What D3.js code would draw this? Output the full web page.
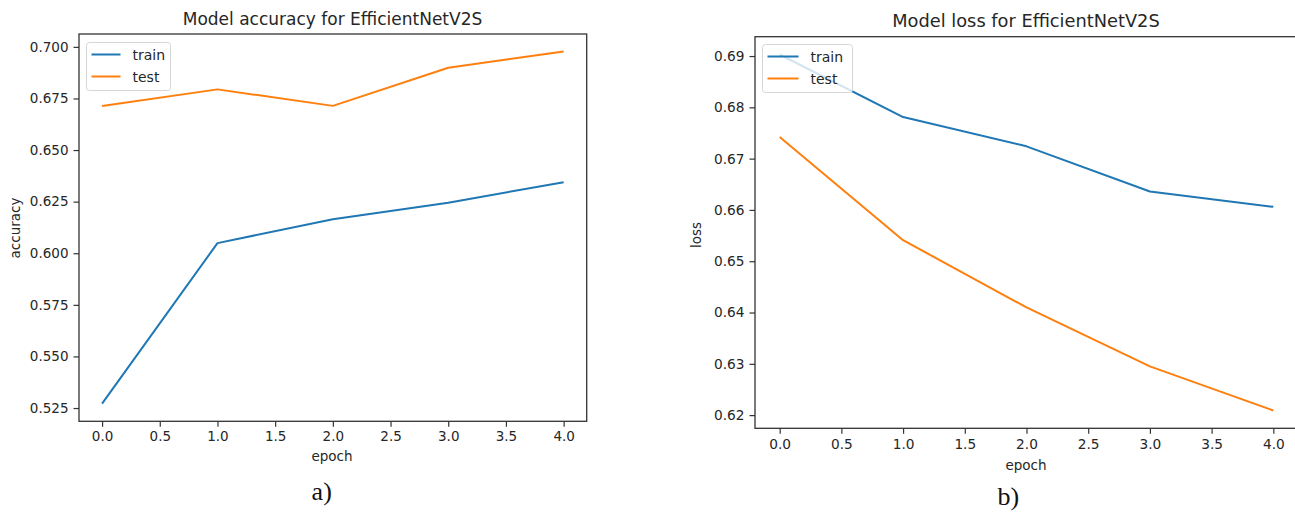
<!DOCTYPE html>
<html>
<head>
<meta charset="utf-8">
<script src="https://cdn.jsdelivr.net/npm/d3@7"></script>
<style>
  html, body { margin: 0; padding: 0; background: #fff; }
  svg { display: block; font-family: "DejaVu Sans", sans-serif; }
</style>
</head>
<body>
<svg id="chart" width="1295" height="514"></svg>
<script>
// Training history of EfficientNetV2S over 5 epochs
const epochs = [0, 1, 2, 3, 4];
const accTrain = [0.5271, 0.6049, 0.6165, 0.6245, 0.6344];
const accTest = [0.6713, 0.6794, 0.6714, 0.6899, 0.6977];
const lossTrain = [0.6903, 0.6781, 0.6724, 0.6636, 0.6606];
const lossTest = [0.6742, 0.6541, 0.6410, 0.6295, 0.6209];

const epochTicks = [0, 0.5, 1, 1.5, 2, 2.5, 3, 3.5, 4];
const accTicks = [0.525, 0.550, 0.575, 0.600, 0.625, 0.650, 0.675, 0.700];
const lossTicks = [0.62, 0.63, 0.64, 0.65, 0.66, 0.67, 0.68, 0.69];

const seriesNames = ["train", "test"];
const colors = ["#1f77b4", "#ff7f0e"];
const textColor = "#262626";

const svg = d3.select("#chart");

// Pad a domain by 5% on each side, like matplotlib's default autoscale
function padded(values) {
  const [lo, hi] = d3.extent(values);
  const m = (hi - lo) * 0.05;
  return [lo - m, hi + m];
}

function panel(cfg) {
  const g = svg.append("g");
  const x = d3.scaleLinear().domain(padded(epochs)).range([cfg.left, cfg.right]);
  const y = d3.scaleLinear().domain(padded(cfg.series.flat())).range([cfg.bottom, cfg.top]);

  // lines
  const line = d3.line().x((d, i) => x(epochs[i])).y(d => y(d));
  cfg.series.forEach((s, k) => {
    g.append("path")
      .datum(s)
      .attr("fill", "none")
      .attr("stroke", colors[k])
      .attr("stroke-width", 2)
      .attr("stroke-linejoin", "round")
      .attr("d", line);
  });

  // frame
  g.append("rect")
    .attr("x", cfg.left).attr("y", cfg.top)
    .attr("width", cfg.right - cfg.left).attr("height", cfg.bottom - cfg.top)
    .attr("fill", "none").attr("stroke", "#333").attr("stroke-width", 1.3);

  // axes
  const xAxis = g.append("g")
    .attr("transform", `translate(0,${cfg.bottom})`)
    .call(d3.axisBottom(x).tickValues(epochTicks).tickFormat(d3.format(".1f")).tickSize(5.5).tickPadding(5));
  const yAxis = g.append("g")
    .attr("transform", `translate(${cfg.left},0)`)
    .call(d3.axisLeft(y).tickValues(cfg.yTicks).tickFormat(d3.format(cfg.yFormat)).tickSize(5.5).tickPadding(5));
  [xAxis, yAxis].forEach(a => {
    a.select(".domain").remove();
    a.selectAll(".tick line").attr("stroke", "#333").attr("stroke-width", 1.2);
    a.selectAll(".tick text")
      .attr("fill", textColor)
      .style("font-size", cfg.tickSize + "px")
      .style("font-family", "DejaVu Sans");
  });

  // title
  g.append("text")
    .attr("x", cfg.titleX).attr("y", cfg.titleY)
    .attr("text-anchor", "middle")
    .attr("fill", textColor)
    .style("font-size", cfg.titleSize + "px")
    .text(cfg.title);

  // axis labels
  g.append("text")
    .attr("x", cfg.xLabelX).attr("y", cfg.xLabelY)
    .attr("text-anchor", "middle")
    .attr("fill", textColor)
    .style("font-size", "13.5px")
    .text("epoch");
  g.append("text")
    .attr("transform", `translate(${cfg.yLabelX},${cfg.yLabelY}) rotate(-90)`)
    .attr("text-anchor", "middle")
    .attr("fill", textColor)
    .style("font-size", "13.5px")
    .text(cfg.yLabel);

  // legend
  const lg = g.append("g").attr("transform", `translate(${cfg.legX},${cfg.legY})`);
  lg.append("rect")
    .attr("width", cfg.legW).attr("height", 48)
    .attr("rx", 3)
    .attr("fill", "#fff").attr("fill-opacity", 0.8)
    .attr("stroke", "#d6d6d6").attr("stroke-width", 1);
  seriesNames.forEach((name, k) => {
    const yy = 12 + k * 22;
    lg.append("line")
      .attr("x1", 5).attr("x2", 5 + cfg.legLine)
      .attr("y1", yy).attr("y2", yy)
      .attr("stroke", colors[k]).attr("stroke-width", 2);
    lg.append("text")
      .attr("x", cfg.legLine + 17).attr("y", yy + 5)
      .attr("fill", textColor)
      .style("font-size", "14px")
      .text(name);
  });

  // panel letter
  g.append("text")
    .attr("x", cfg.letterX).attr("y", cfg.letterY)
    .attr("text-anchor", "middle")
    .attr("fill", "#111")
    .style("font-family", "Liberation Serif, serif")
    .style("font-size", "26px")
    .text(cfg.letter);
}

panel({
  series: [accTrain, accTest],
  left: 79, right: 586.7, top: 34, bottom: 421.3,
  yTicks: accTicks, yFormat: ".3f", tickSize: 13.5,
  title: "Model accuracy for EfficientNetV2S", titleX: 332.5, titleY: 25, titleSize: 17,
  xLabelX: 332, xLabelY: 461, yLabelX: 20, yLabelY: 228, yLabel: "accuracy",
  legX: 86.5, legY: 42.5, legW: 84, legLine: 29,
  letter: "a)", letterX: 321.7, letterY: 500
});

panel({
  series: [lossTrain, lossTest],
  left: 755, right: 1298, top: 36.7, bottom: 428.3,
  yTicks: lossTicks, yFormat: ".2f", tickSize: 13.7,
  title: "Model loss for EfficientNetV2S", titleX: 1026, titleY: 27, titleSize: 17.8,
  xLabelX: 1026, xLabelY: 470, yLabelX: 701, yLabelY: 235, yLabel: "loss",
  legX: 762.5, legY: 44.5, legW: 90, legLine: 31,
  letter: "b)", letterX: 1008.3, letterY: 505
});
</script>
</body>
</html>
